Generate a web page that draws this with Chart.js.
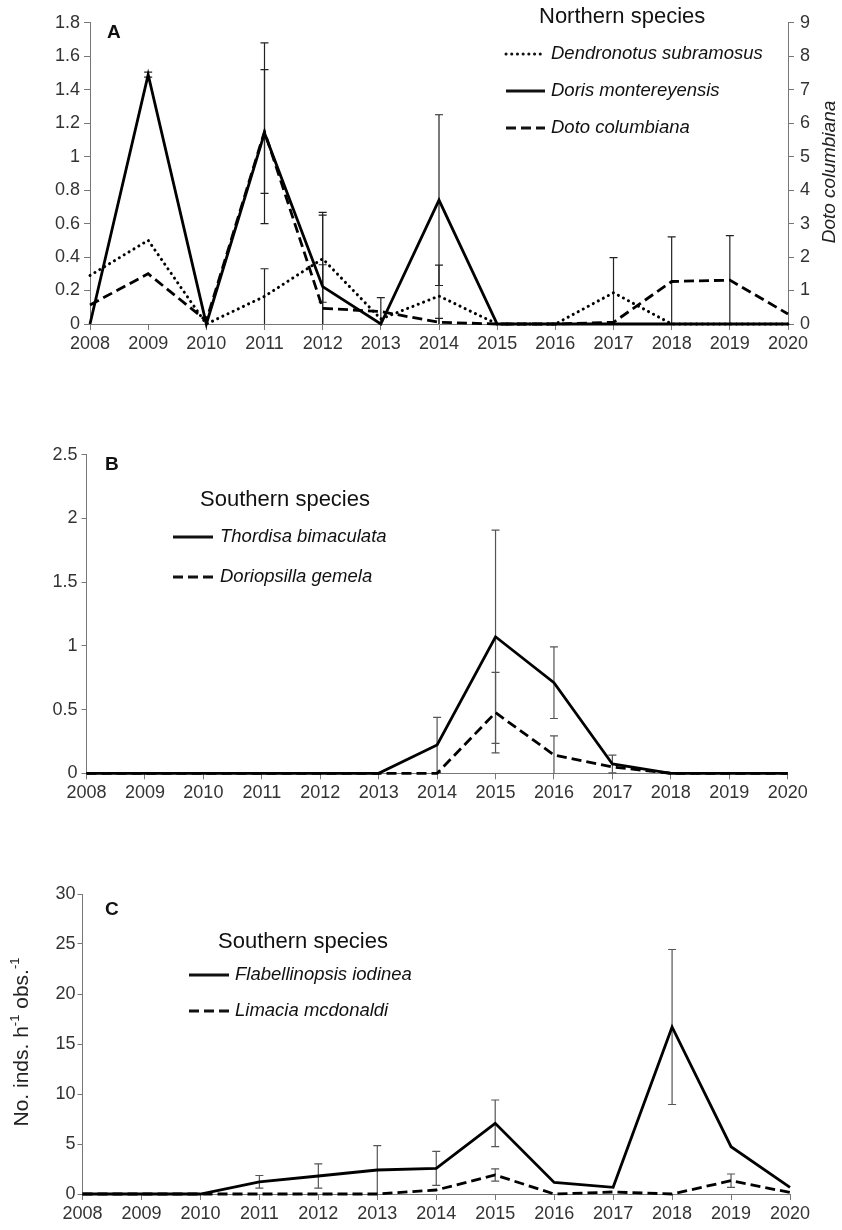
<!DOCTYPE html>
<html><head><meta charset="utf-8">
<script src="https://cdn.jsdelivr.net/npm/chart.js@4/dist/chart.umd.min.js"></script>
<style>
html,body{margin:0;padding:0;background:#fff;}
#wrap{position:relative;width:842px;height:1230px;overflow:hidden;}
canvas{position:absolute;left:0;}
</style></head><body>
<div id="wrap">
<canvas id="cA" width="842" height="370" style="top:0px;width:842px;height:370px"></canvas>
<canvas id="cB" width="842" height="380" style="top:430px;width:842px;height:380px"></canvas>
<canvas id="cC" width="842" height="380" style="top:850px;width:842px;height:380px"></canvas>
</div>
<script>
// ---------- data ----------
const years = ['2008','2009','2010','2011','2012','2013','2014','2015','2016','2017','2018','2019','2020'];

// Panel A (Northern species)
const dendronotus    = [0.29, 0.50, 0, 0.165, 0.39, 0.03, 0.167, 0, 0, 0.187, 0, 0, 0];
const dendronotusErr = [null, null, null, 0.165, 0.26, null, 0.185, null, null, 0.21, null, null, null];
const doris          = [0, 1.49, 0, 1.14, 0.223, 0, 0.74, 0, 0, 0, 0, 0, 0];
const dorisErr       = [null, 0.015, null, 0.54, 0.444, null, 0.51, null, null, null, null, null, null];
const doto           = [0.57, 1.5, 0.1, 5.75, 0.47, 0.37, 0.05, 0, 0, 0.05, 1.27, 1.31, 0.3];   // right axis
const dotoErr        = [null, null, null, 1.85, 1.3, 0.42, 0.12, null, null, null, 1.33, 1.33, null];
const ticksA  = [0, 0.2, 0.4, 0.6, 0.8, 1, 1.2, 1.4, 1.6, 1.8];
const ticksA2 = [0, 1, 2, 3, 4, 5, 6, 7, 8, 9];

// Panel B (Southern species)
const thordisa       = [0, 0, 0, 0, 0, 0, 0.222, 1.071, 0.711, 0.073, 0, 0, 0];
const thordisaErr    = [null, null, null, null, null, null, 0.217, 0.837, 0.281, 0.07, null, null, null];
const doriopsilla    = [0, 0, 0, 0, 0, 0, 0, 0.476, 0.144, 0.05, 0, 0, 0];
const doriopsillaErr = [null, null, null, null, null, null, null, 0.316, 0.149, null, null, null, null];
const ticksB = [0, 0.5, 1, 1.5, 2, 2.5];

// Panel C (Southern species)
const flabellinopsis    = [0, 0, 0, 1.22, 1.8, 2.4, 2.57, 7.07, 1.15, 0.67, 16.7, 4.73, 0.67];
const flabellinopsisErr = [null, null, null, 0.63, 1.22, 2.43, 1.7, 2.33, null, null, 7.75, null, null];
const limacia           = [0, 0, 0, 0, 0, 0, 0.4, 1.9, 0, 0.2, 0, 1.33, 0.15];
const limaciaErr        = [null, null, null, null, null, null, null, 0.62, null, null, null, 0.67, null];
const ticksC = [0, 5, 10, 15, 20, 25, 30];

// ---------- styling ----------
const FONT = "'Liberation Sans', Arial, Helvetica, sans-serif";
const W = 842;
const SOLID = [], DASH = [10, 5], DOT = [0.1, 5.6];

const errorBars = {
  id: 'errorBars',
  beforeDatasetsDraw(chart) {
    const ctx = chart.ctx;
    ctx.save();
    chart.data.datasets.forEach((ds, i) => {
      if (!ds.errors) return;
      const meta = chart.getDatasetMeta(i);
      const ys = chart.scales[ds.yAxisID || 'y'];
      ctx.strokeStyle = ds.errColor || '#333';
      ctx.lineWidth = 1.2;
      ctx.setLineDash([]);
      ds.errors.forEach((e, j) => {
        if (e == null) return;
        const v = ds.data[j];
        const x = meta.data[j].x;
        const hi = ys.getPixelForValue(v + e);
        const loV = Math.max(v - e, ys.min);
        const lo = ys.getPixelForValue(loV);
        const cw = 4;
        ctx.beginPath();
        ctx.moveTo(x, hi); ctx.lineTo(x, lo);
        ctx.moveTo(x - cw, hi); ctx.lineTo(x + cw, hi);
        if (v - e > ys.min) { ctx.moveTo(x - cw, lo); ctx.lineTo(x + cw, lo); }
        ctx.stroke();
      });
    });
    ctx.restore();
  }
};

const decor = {
  id: 'decor',
  afterDraw(chart, args, o) {
    const ctx = chart.ctx;
    ctx.save();
    ctx.fillStyle = '#111';
    ctx.textBaseline = 'middle';
    ctx.textAlign = 'left';
    ctx.font = 'bold 19px ' + FONT;
    ctx.fillText(o.letter, o.letterX, o.letterY);
    ctx.font = '22px ' + FONT;
    ctx.fillText(o.title, o.titleX, o.titleY);
    o.items.forEach(it => {
      const ds = chart.data.datasets[it.ds];
      ctx.strokeStyle = '#111';
      ctx.lineWidth = ds.borderWidth;
      ctx.lineCap = ds.borderCapStyle || 'butt';
      ctx.setLineDash(ds.borderDash || []);
      ctx.beginPath();
      ctx.moveTo(o.sampleX0, it.y); ctx.lineTo(o.sampleX1, it.y);
      ctx.stroke();
      ctx.setLineDash([]);
      ctx.lineCap = 'butt';
      ctx.font = 'italic 18.5px ' + FONT;
      ctx.fillText(ds.label, o.textX, it.y);
    });
    if (o.rightTitle) {
      ctx.save();
      ctx.translate(o.rightTitle.x, o.rightTitle.y);
      ctx.rotate(-Math.PI / 2);
      ctx.textAlign = 'center';
      ctx.font = 'italic 19px ' + FONT;
      ctx.fillStyle = '#222';
      ctx.fillText(o.rightTitle.text, 0, 0);
      ctx.restore();
    }
    if (o.leftTitle) {
      const parts = o.leftTitle.parts;
      ctx.save();
      ctx.translate(o.leftTitle.x, o.leftTitle.y);
      ctx.rotate(-Math.PI / 2);
      let total = 0;
      parts.forEach(p => { ctx.font = (p.sup ? '13px ' : '21px ') + FONT; total += ctx.measureText(p.t).width; });
      let x = -total / 2;
      ctx.fillStyle = '#222';
      ctx.textAlign = 'left';
      parts.forEach(p => {
        ctx.font = (p.sup ? '13px ' : '21px ') + FONT;
        ctx.fillText(p.t, x, p.sup ? -7 : 0);
        x += ctx.measureText(p.t).width;
      });
      ctx.restore();
    }
    ctx.restore();
  }
};

function fmt(v) { return String(+Number(v).toFixed(2)); }

function makeChart(id, H, area, datasets, yCfg, y2Cfg, decorOpts, tl, tp) {
  const scales = {
    x: {
      type: 'category', offset: false,
      grid: { display: true, drawOnChartArea: false, drawTicks: true, tickLength: 6, color: '#777', offset: false },
      border: { display: true, color: '#777', width: 1 },
      ticks: { color: '#333', font: { family: FONT, size: 18 }, maxRotation: 0, autoSkip: false, padding: 3 },
      afterFit: s => { s.height = H - area.b; }
    },
    y: {
      position: 'left', min: yCfg.ticks[0], max: yCfg.ticks[yCfg.ticks.length - 1],
      afterBuildTicks: s => { s.ticks = yCfg.ticks.map(v => ({ value: v })); },
      grid: { display: true, drawOnChartArea: false, drawTicks: true, tickLength: tl, color: '#777' },
      border: { display: true, color: '#777', width: 1 },
      ticks: { color: '#333', font: { family: FONT, size: 18 }, padding: tp, callback: fmt },
      afterFit: s => { s.width = area.l; }
    }
  };
  if (y2Cfg) {
    scales.y2 = {
      position: 'right', min: y2Cfg.ticks[0], max: y2Cfg.ticks[y2Cfg.ticks.length - 1],
      afterBuildTicks: s => { s.ticks = y2Cfg.ticks.map(v => ({ value: v })); },
      grid: { display: true, drawOnChartArea: false, drawTicks: true, tickLength: 6, color: '#777' },
      border: { display: true, color: '#777', width: 1 },
      ticks: { color: '#333', font: { family: FONT, size: 18 }, padding: 6, callback: fmt },
      afterFit: s => { s.width = W - area.r; }
    };
  }
  return new Chart(document.getElementById(id), {
    type: 'line',
    data: { labels: years, datasets },
    options: {
      responsive: false, animation: false, devicePixelRatio: 1,
      layout: { padding: { top: area.t, left: 0, bottom: 0, right: y2Cfg ? 0 : W - area.r } },
      plugins: { legend: { display: false }, tooltip: { enabled: false }, decor: decorOpts },
      elements: { point: { radius: 0 }, line: { tension: 0 } },
      scales
    },
    plugins: [errorBars, decor]
  });
}

function ds(label, data, errors, dash, extra) {
  return Object.assign({ label, data, errors, borderColor: '#000', borderWidth: 2.8, borderDash: dash,
    pointRadius: 0, fill: false, clip: false, errColor: '#333' }, extra || {});
}

// Panel A
makeChart('cA', 370, { l: 90, r: 788, t: 22.7, b: 324 }, [
  ds('Dendronotus subramosus', dendronotus, dendronotusErr, DOT, { borderCapStyle: 'round', borderWidth: 3, errColor: '#222' }),
  ds('Doris montereyensis', doris, dorisErr, SOLID, { errColor: '#222' }),
  ds('Doto columbiana', doto, dotoErr, DASH, { yAxisID: 'y2', errColor: '#222' })
], { ticks: ticksA }, { ticks: ticksA2 }, {
  letter: 'A', letterX: 107, letterY: 33,
  title: 'Northern species', titleX: 539, titleY: 17,
  sampleX0: 506, sampleX1: 545, textX: 551,
  items: [{ ds: 0, y: 54 }, { ds: 1, y: 91 }, { ds: 2, y: 128 }],
  rightTitle: { text: 'Doto columbiana', x: 830, y: 172 }
}, 6, 4);

// Panel B
makeChart('cB', 380, { l: 86.5, r: 787.7, t: 24.6, b: 343.3 }, [
  ds('Thordisa bimaculata', thordisa, thordisaErr, SOLID, { errColor: '#555' }),
  ds('Doriopsilla gemela', doriopsilla, doriopsillaErr, DASH, { errColor: '#555' })
], { ticks: ticksB }, null, {
  letter: 'B', letterX: 105, letterY: 35,
  title: 'Southern species', titleX: 200, titleY: 70,
  sampleX0: 173, sampleX1: 213, textX: 220,
  items: [{ ds: 0, y: 107 }, { ds: 1, y: 147 }]
}, 5, 4);

// Panel C
makeChart('cC', 380, { l: 82.5, r: 790, t: 44, b: 344 }, [
  ds('Flabellinopsis iodinea', flabellinopsis, flabellinopsisErr, SOLID, { errColor: '#555' }),
  ds('Limacia mcdonaldi', limacia, limaciaErr, DASH, { errColor: '#555' })
], { ticks: ticksC }, null, {
  letter: 'C', letterX: 105, letterY: 60,
  title: 'Southern species', titleX: 218, titleY: 92,
  sampleX0: 189, sampleX1: 229, textX: 235,
  items: [{ ds: 0, y: 125 }, { ds: 1, y: 161 }],
  leftTitle: { x: 22, y: 192, parts: [{ t: 'No. inds. h' }, { t: '-1', sup: true }, { t: ' obs.' }, { t: '-1', sup: true }] }
}, 5, 2);
</script>
</body></html>
